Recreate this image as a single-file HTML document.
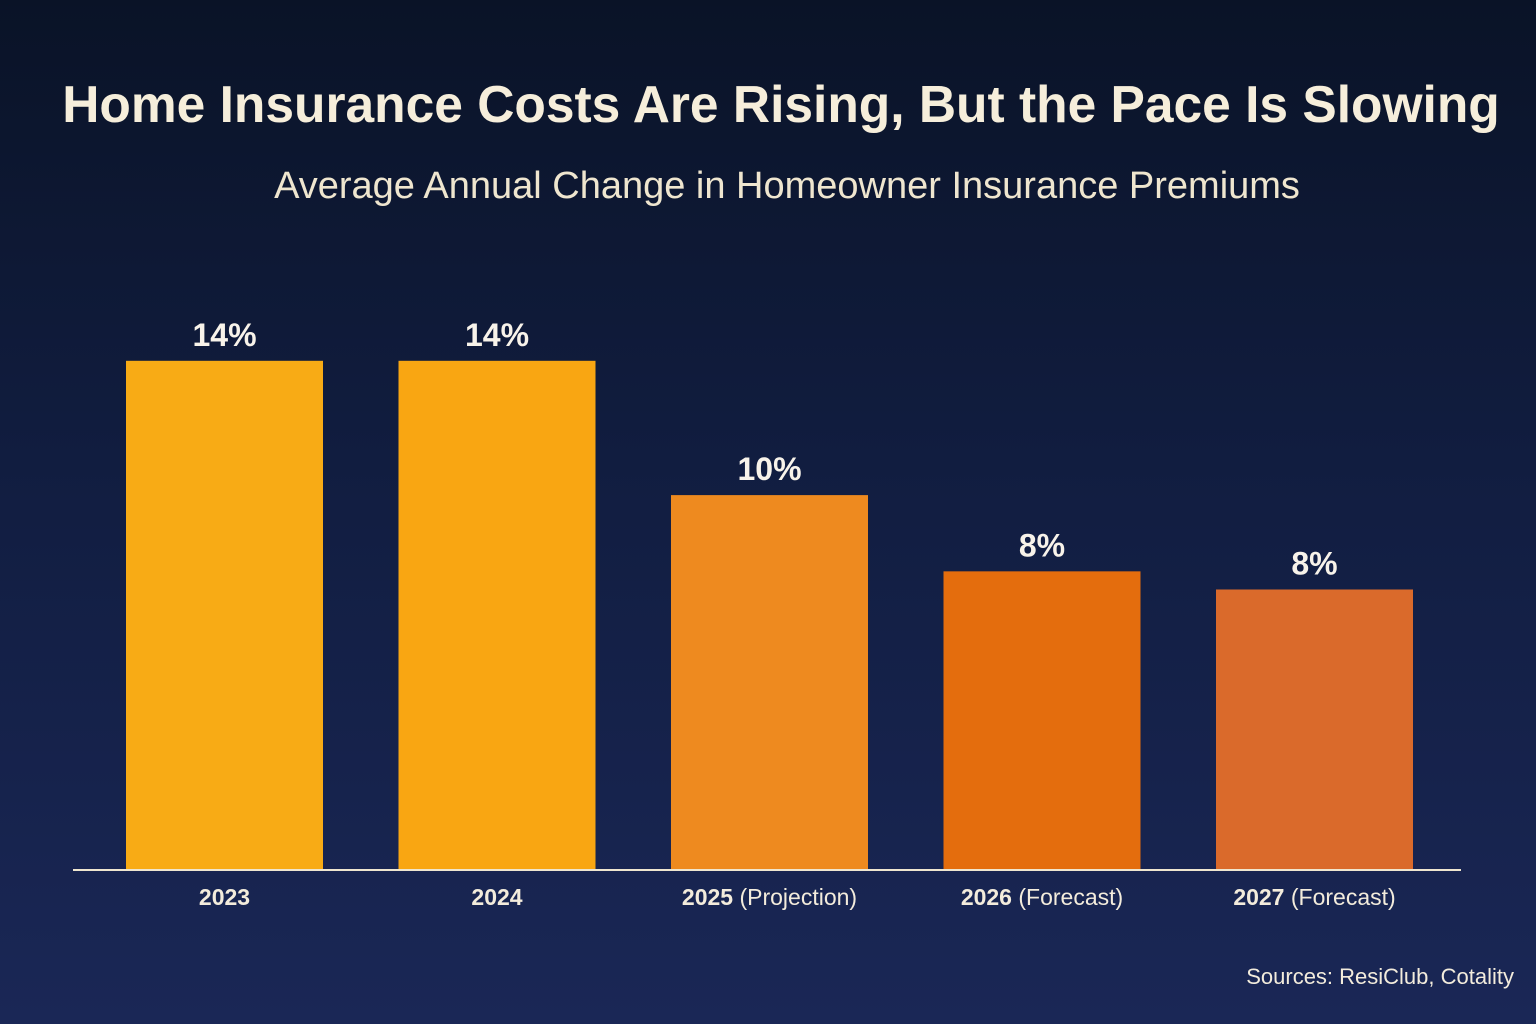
<!DOCTYPE html>
<html><head><meta charset="utf-8">
<style>
html,body{margin:0;padding:0}
body{width:1536px;height:1024px;overflow:hidden;background:linear-gradient(180deg,#0a1327 0%,#111d40 45%,#1a2756 100%);font-family:"Liberation Sans",sans-serif}
svg{display:block}
</style></head>
<body>
<svg id="chart" width="1536" height="1024">
<text x="781" y="122" text-anchor="middle" font-size="51.5" font-weight="bold" fill="#f6eedb">Home Insurance Costs Are Rising, But the Pace Is Slowing</text>
<text x="787" y="198" text-anchor="middle" font-size="38" fill="#efe6cf">Average Annual Change in Homeowner Insurance Premiums</text>
<g id="bars"></g>
<line x1="73" x2="1461" y1="870" y2="870" stroke="#efe6cf" stroke-width="2"/>
<text x="1514" y="984" text-anchor="end" font-size="22" fill="#f3ecdc">Sources: ResiClub, Cotality</text>
</svg>
<script>
const categories = ["2023","2024","2025","2026","2027"];
const suffixes = [""," ",""," (Projection)"," (Forecast)"," (Forecast)"].slice(1);
const values = [14, 14, 10.3, 8.2, 7.7];
const valueLabels = ["14%","14%","10%","8%","8%"];
const colors = ["#f8ab15","#f9a612","#ee8a1f","#e46d0d","#da6a2b"];
const ns="http://www.w3.org/2000/svg";
const baseY=869, pxPerUnit=36.3;
const y=v=>baseY-v*pxPerUnit;
const x=i=>224.5+i*272.5;
const bw=197;
const g=document.getElementById('bars');
categories.forEach((c,i)=>{
  const r=document.createElementNS(ns,'rect');
  r.setAttribute('x',x(i)-bw/2);r.setAttribute('y',y(values[i]));
  r.setAttribute('width',bw);r.setAttribute('height',baseY-y(values[i]));
  r.setAttribute('fill',colors[i]);
  
  
  g.appendChild(r);
  const t=document.createElementNS(ns,'text');
  t.setAttribute('x',x(i));t.setAttribute('y',y(values[i])-15);
  t.setAttribute('text-anchor','middle');t.setAttribute('font-size','32');
  t.setAttribute('font-weight','bold');t.setAttribute('fill','#f8f3ea');
  t.textContent=valueLabels[i];
  
  
  g.appendChild(t);
  const l=document.createElementNS(ns,'text');
  l.setAttribute('x',x(i));l.setAttribute('y',905);
  l.setAttribute('text-anchor','middle');l.setAttribute('font-size','23');
  l.setAttribute('fill','#f3ecdc');
  
  
  const yr=document.createElementNS(ns,'tspan');
  yr.setAttribute('font-weight','bold');
  yr.textContent=c;
  l.appendChild(yr);
  const sf=document.createElementNS(ns,'tspan');
  sf.textContent=suffixes[i];
  l.appendChild(sf);
  g.appendChild(l);
});
</script>
</body></html>
